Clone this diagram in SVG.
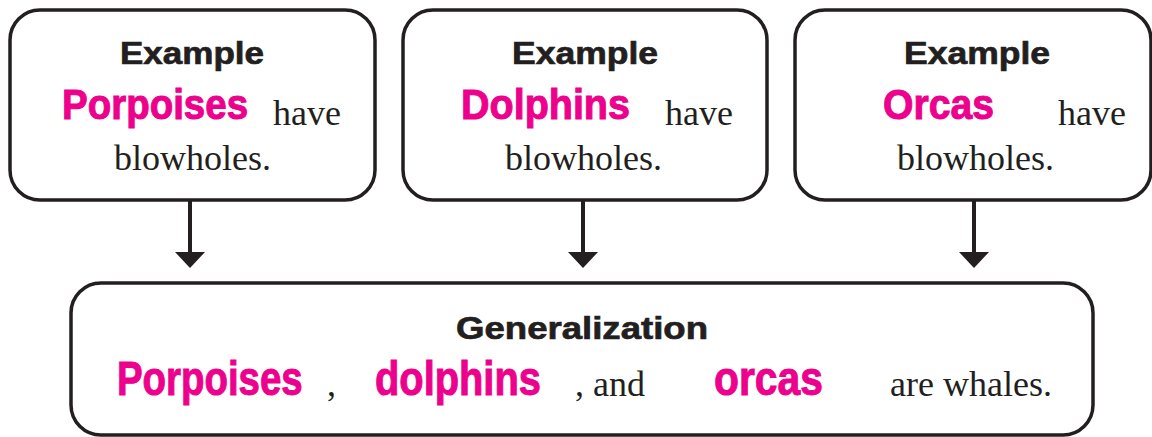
<svg xmlns="http://www.w3.org/2000/svg" width="1152" height="437" viewBox="0 0 1152 437">
<style>
.box{fill:#fff;stroke:#231f20;stroke-width:3.5}
.head{font-family:"Liberation Sans",Arial,Helvetica,sans-serif;font-weight:bold;font-size:32px;fill:#231f20;stroke:#231f20;stroke-width:0.7}
.pink{font-family:"Liberation Sans",Arial,sans-serif;font-weight:bold;fill:#ec008c;stroke:#ec008c;stroke-width:1}
.serif{font-family:"Liberation Serif","Times New Roman",Times,serif;font-size:36px;fill:#231f20}
.conn line{stroke:#231f20;stroke-width:4}
</style>
<defs>
<marker id="ah" viewBox="0 0 16 30" refX="0" refY="15" markerWidth="16" markerHeight="30" markerUnits="userSpaceOnUse" orient="auto">
<path d="M0,0 L16,15 L0,30 Z" fill="#231f20"/>
</marker>
</defs>
<g id="connectors" class="conn">
<line x1="190" y1="200" x2="190" y2="252" marker-end="url(#ah)"/>
<line x1="583" y1="200" x2="583" y2="252" marker-end="url(#ah)"/>
<line x1="974" y1="200" x2="974" y2="252" marker-end="url(#ah)"/>
</g>
<g id="example-porpoises">
<rect class="box" x="10" y="10" width="365" height="190" rx="30"/>
<text class="head" x="192" y="64" text-anchor="middle" textLength="144" lengthAdjust="spacingAndGlyphs">Example</text>
<text class="pink" font-size="43" transform="translate(62,119) scale(0.895,1)">Porpoises</text>
<text class="serif" x="273" y="125">have</text>
<text class="serif" x="114" y="170">blowholes.</text>
</g>
<g id="example-dolphins">
<rect class="box" x="403" y="10" width="364" height="190" rx="30"/>
<text class="head" x="585" y="64" text-anchor="middle" textLength="146" lengthAdjust="spacingAndGlyphs">Example</text>
<text class="pink" font-size="43" transform="translate(461,119) scale(0.919,1)">Dolphins</text>
<text class="serif" x="665" y="125">have</text>
<text class="serif" x="505" y="170">blowholes.</text>
</g>
<g id="example-orcas">
<rect class="box" x="795" y="10" width="356" height="190" rx="30"/>
<text class="head" x="977" y="64" text-anchor="middle" textLength="146" lengthAdjust="spacingAndGlyphs">Example</text>
<text class="pink" font-size="43" transform="translate(883,119) scale(0.91,1)">Orcas</text>
<text class="serif" x="1058" y="125">have</text>
<text class="serif" x="897" y="170">blowholes.</text>
</g>
<g id="generalization">
<rect class="box" x="71" y="283" width="1022" height="152" rx="30"/>
<text class="head" x="582" y="339" text-anchor="middle" textLength="252" lengthAdjust="spacingAndGlyphs">Generalization</text>
<text class="pink" font-size="48" transform="translate(117,395) scale(0.8,1)">Porpoises</text>
<text class="serif" x="327" y="396">,</text>
<text class="pink" font-size="48" transform="translate(375,395) scale(0.83,1)">dolphins</text>
<text class="serif" x="575" y="396">, and</text>
<text class="pink" font-size="48" transform="translate(714,395) scale(0.85,1)">orcas</text>
<text class="serif" x="890" y="396">are whales.</text>
</g>
</svg>
